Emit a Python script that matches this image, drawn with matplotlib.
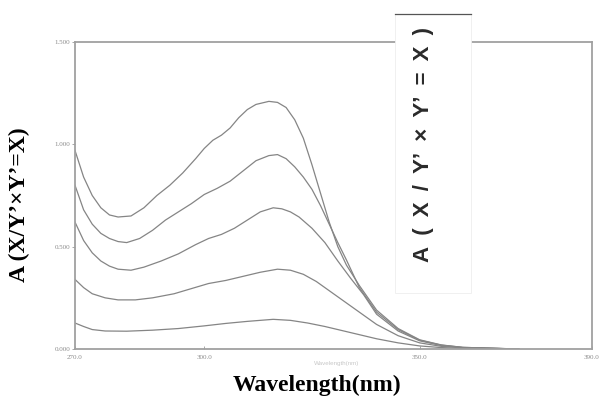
import matplotlib
matplotlib.use("Agg")
import matplotlib.pyplot as plt
from matplotlib.patches import Rectangle

# Absorbance spectra, five concentrations
wl_1 = [270, 272, 274, 276, 278, 280, 283, 286, 289, 292, 295, 298, 300, 302, 304, 306,
        308, 310, 312, 315, 317, 319, 321, 323, 325, 327, 329, 331, 333, 336, 340, 345,
        350, 355, 360, 373]
abs_1 = [0.97, 0.84, 0.75, 0.69, 0.655, 0.645, 0.65, 0.69, 0.75, 0.80, 0.86, 0.93, 0.98,
         1.02, 1.045, 1.08, 1.13, 1.17, 1.195, 1.21, 1.205, 1.18, 1.12, 1.03, 0.90, 0.76,
         0.62, 0.50, 0.41, 0.31, 0.19, 0.10, 0.045, 0.02, 0.008, 0.0]

wl_2 = [270, 272, 274, 276, 278, 280, 282, 285, 288, 291, 294, 297, 300, 303, 306, 309,
        312, 315, 317, 319, 321, 323, 325, 327, 329, 331, 333, 336, 340, 345, 350, 355,
        360, 373]
abs_2 = [0.80, 0.68, 0.61, 0.565, 0.54, 0.525, 0.52, 0.54, 0.58, 0.63, 0.67, 0.71, 0.755,
         0.785, 0.82, 0.87, 0.92, 0.945, 0.95, 0.93, 0.89, 0.84, 0.78, 0.70, 0.61, 0.52,
         0.435, 0.30, 0.18, 0.095, 0.043, 0.019, 0.008, 0.0]

wl_3 = [270, 272, 274, 276, 278, 280, 283, 286, 290, 294, 298, 301, 304, 307, 310, 313,
        316, 318, 320, 322, 325, 328, 331, 334, 337, 340, 345, 350, 355, 360, 373]
abs_3 = [0.62, 0.53, 0.47, 0.43, 0.405, 0.39, 0.385, 0.40, 0.43, 0.465, 0.51, 0.54, 0.56,
         0.59, 0.63, 0.67, 0.69, 0.685, 0.67, 0.645, 0.59, 0.52, 0.43, 0.345, 0.265, 0.17,
         0.088, 0.04, 0.017, 0.007, 0.0]

wl_4 = [270, 272, 274, 277, 280, 284, 288, 293, 297, 301, 305, 309, 313, 317, 320, 323,
        326, 329, 332, 336, 340, 345, 350, 355, 360, 373]
abs_4 = [0.34, 0.30, 0.27, 0.25, 0.24, 0.24, 0.25, 0.27, 0.295, 0.32, 0.335, 0.355, 0.375,
         0.39, 0.385, 0.365, 0.33, 0.285, 0.24, 0.18, 0.12, 0.065, 0.03, 0.013, 0.006, 0.0]

wl_5 = [270, 272, 274, 277, 282, 288, 294, 300, 305, 310, 316, 320, 324, 328, 332, 336,
        340, 345, 350, 355, 360, 373]
abs_5 = [0.127, 0.11, 0.095, 0.088, 0.087, 0.092, 0.10, 0.113, 0.125, 0.135, 0.145, 0.14,
         0.127, 0.11, 0.09, 0.07, 0.05, 0.03, 0.015, 0.007, 0.003, 0.0]

x_ticks = [270, 300, 350, 390]
x_tick_labels = ["270.0", "300.0", "350.0", "390.0"]
y_ticks = [0.0, 0.5, 1.0, 1.5]
y_tick_labels = ["0.000", "0.500", "1.000", "1.500"]

fig = plt.figure(figsize=(6.0, 3.99), dpi=100)
ax = fig.add_axes([0.125, 0.1253, 0.8617, 0.7694])

for wl, a in [(wl_1, abs_1), (wl_2, abs_2), (wl_3, abs_3), (wl_4, abs_4), (wl_5, abs_5)]:
    ax.plot(wl, a, color="#858585", lw=0.9)

ax.set_xlim(270, 390)
ax.set_ylim(0, 1.5)
ax.set_xticks(x_ticks)
ax.set_xticklabels(x_tick_labels)
ax.set_yticks(y_ticks)
ax.set_yticklabels(y_tick_labels)
ax.tick_params(axis="both", labelsize=5, colors="#999999", labelcolor="#8a8a8a", length=2, width=0.6)
ax.tick_params(axis="x", direction="in", pad=4)
ax.tick_params(axis="y", pad=1.5)
for lab in ax.get_xticklabels() + ax.get_yticklabels():
    lab.set_family("Liberation Serif")
for s in ax.spines.values():
    s.set_color("#a0a0a0")
    s.set_linewidth(1.3)

# axis titles
fig.text(0.033, 0.486, "A (X/Y’×Y’=X)", rotation=90, ha="center", va="center",
         family="Liberation Serif", fontweight="bold", fontsize=17)
fig.text(0.528, 0.033, "Wavelength(nm)", ha="center", va="center",
         family="Liberation Serif", fontweight="bold", fontsize=17)
# faint leftover of the original axis title
fig.text(0.561, 0.09, "Wavelength(nm)", ha="center", va="center",
         family="Liberation Sans", fontsize=4.5, color="#c8c8c8")

# pasted label box over the plot
box = Rectangle((395 / 600, 1 - 293 / 399), 76 / 600, 279 / 399, transform=fig.transFigure,
                facecolor="white", edgecolor="#eeeeee", lw=0.6, zorder=5)
fig.add_artist(box)
fig.add_artist(plt.Line2D([395 / 600, 471 / 600], [1 - 14 / 399, 1 - 14 / 399],
                          transform=fig.transFigure, color="#555555", lw=0.9, zorder=6))
sp = "\u2002"
box_label = sp.join(["A", "(", "X", "/", "Y’", "×", "Y’", "=", "X", ")"])
fig.text(423 / 600, 1 - 144 / 399, box_label, rotation=90, ha="center", va="center",
         family=["Liberation Sans", "DejaVu Sans"], fontweight="bold", fontsize=16,
         color="#2a2a2a", zorder=7)

fig.savefig("out.png", dpi=100)
